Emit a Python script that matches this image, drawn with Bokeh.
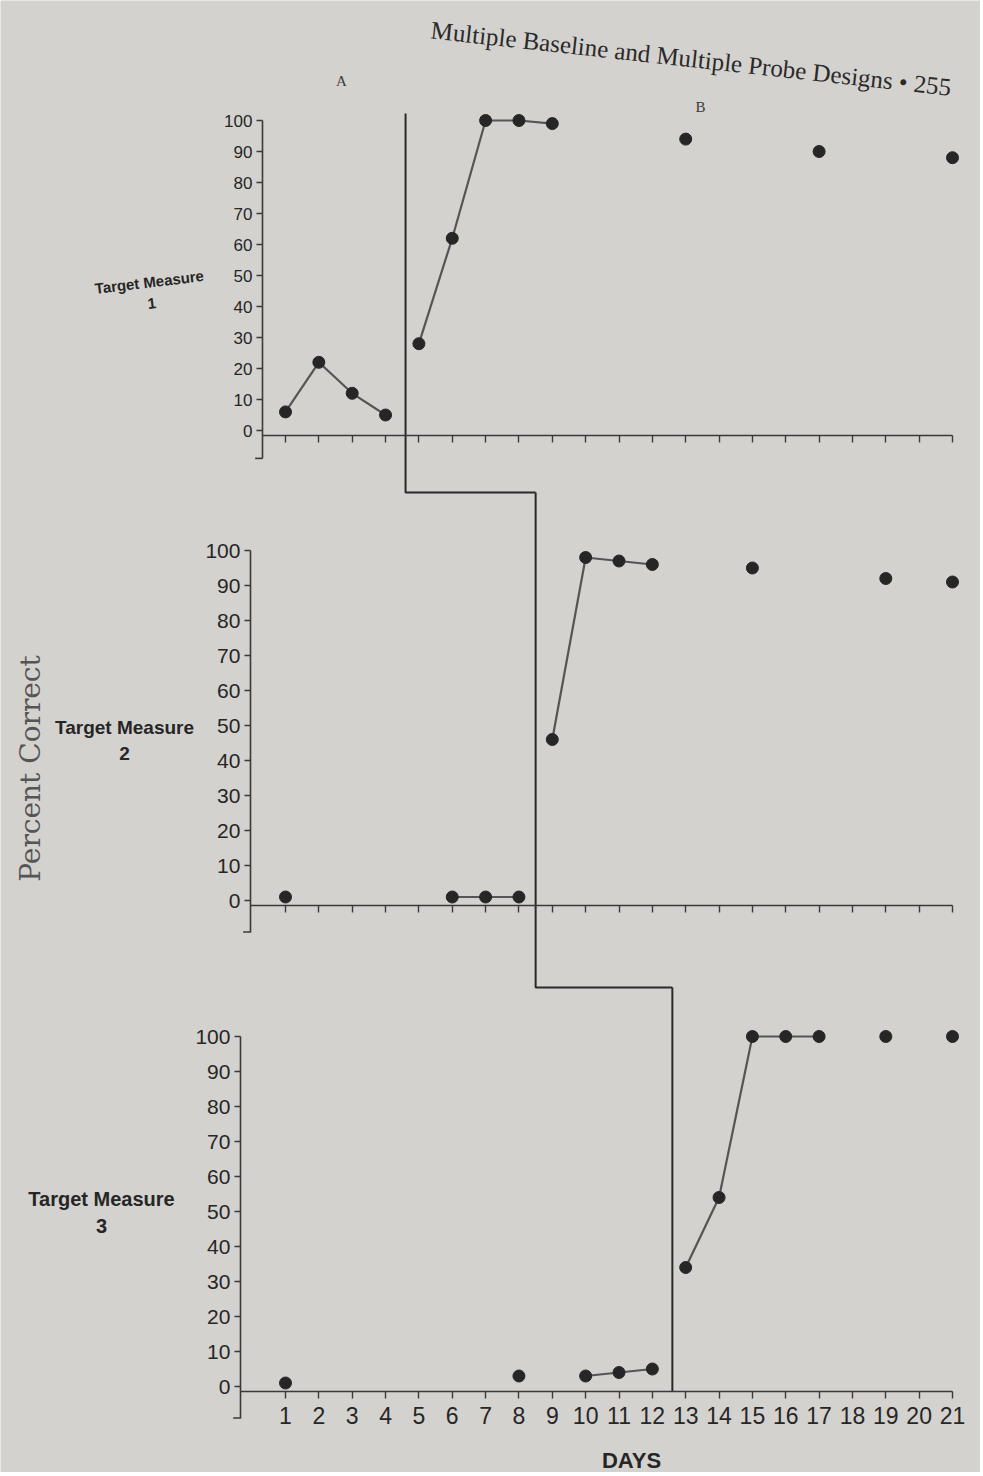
import math
from bokeh.plotting import figure
from bokeh.models import Range1d, LinearAxis, FixedTicker
from bokeh.core.properties import value
from bokeh.embed import file_html
from bokeh.resources import INLINE

# ---------------- data ----------------
days_axis = list(range(1, 22))
y_ticks = list(range(0, 101, 10))

# Target Measure 1
tm1_base_days = [1, 2, 3, 4]
tm1_base_vals = [6, 22, 12, 5]
tm1_treat_days = [5, 6, 7, 8, 9]
tm1_treat_vals = [28, 62, 100, 100, 99]
tm1_probe_days = [13, 17, 21]
tm1_probe_vals = [94, 90, 88]

# Target Measure 2
tm2_base_a_days = [1]
tm2_base_a_vals = [1]
tm2_base_b_days = [6, 7, 8]
tm2_base_b_vals = [1, 1, 1]
tm2_treat_days = [9, 10, 11, 12]
tm2_treat_vals = [46, 98, 97, 96]
tm2_probe_days = [15, 19, 21]
tm2_probe_vals = [95, 92, 91]

# Target Measure 3
tm3_base_a_days = [1]
tm3_base_a_vals = [1]
tm3_base_b_days = [8]
tm3_base_b_vals = [3]
tm3_base_c_days = [10, 11, 12]
tm3_base_c_vals = [3, 4, 5]
tm3_treat_days = [13, 14, 15, 16, 17]
tm3_treat_vals = [34, 54, 100, 100, 100]
tm3_probe_days = [19, 21]
tm3_probe_vals = [100, 100]

phase_change_days = [4.6, 8.5, 12.6]
panel_names = ["Target Measure\n1", "Target Measure\n2", "Target Measure\n3"]

# ---------------- layout helpers ----------------
W, H = 980, 1472
DAY1_PX, DAY_W = 285.0, 33.35           # page x of day 1, px per day
ZERO_PX = [430.0, 900.0, 1386.0]         # page y of value 0 per panel
SCALE = [3.1, 3.5, 3.5]                  # px per percent per panel
YAX_X = [0.31, -0.05, -0.35]             # y-axis position (days)
CONNECT_PX = [492.0, 987.0]              # page y of phase-line connectors


def day_of(px):
    return 1 + (px - DAY1_PX) / DAY_W


def val_of(k, py):
    return (ZERO_PX[k] - py) / SCALE[k]


p = figure(width=W, height=H, output_backend="svg", toolbar_location=None,
           x_range=Range1d(day_of(0), day_of(W)),
           y_range=Range1d(H, 0),
           x_axis_location=None, y_axis_location=None,
           min_border=0, min_border_left=0, min_border_right=0,
           min_border_top=0, min_border_bottom=0)
p.outline_line_color = None
p.grid.visible = False
BG = "#d4d2ce"
p.background_fill_color = BG
p.border_fill_color = BG

for k in range(3):
    p.extra_y_ranges[f"p{k}"] = Range1d(start=val_of(k, H), end=val_of(k, 0))

AX_COL = "#3a3a3a"
TXT_COL = "#262626"
LABEL_SIZES = ["17px", "21px", "21px"]

for k in range(3):
    rn = f"p{k}"
    ya = LinearAxis(y_range_name=rn, fixed_location=YAX_X[k], bounds=(-9, 100),
                    ticker=FixedTicker(ticks=y_ticks))
    ya.axis_line_color = AX_COL
    ya.axis_line_width = 1.6
    ya.major_tick_line_color = AX_COL
    ya.major_tick_line_width = 1.4
    ya.major_tick_out = 6
    ya.major_tick_in = 0
    ya.minor_tick_out = 0
    ya.minor_tick_in = 0
    ya.major_label_standoff = 4
    ya.major_label_text_font = "Liberation Sans"
    ya.major_label_text_font_size = LABEL_SIZES[k]
    ya.major_label_text_color = TXT_COL
    p.add_layout(ya, "left")

    xa = LinearAxis(y_range_name=rn, fixed_location=-1.5, bounds=(YAX_X[k], 21),
                    ticker=FixedTicker(ticks=days_axis))
    xa.axis_line_color = AX_COL
    xa.axis_line_width = 1.6
    xa.major_tick_line_color = AX_COL
    xa.major_tick_line_width = 1.4
    xa.major_tick_out = 7
    xa.major_tick_in = 0
    xa.minor_tick_out = 0
    xa.minor_tick_in = 0
    xa.major_label_standoff = 8
    xa.major_label_text_font = "Liberation Sans"
    xa.major_label_text_font_size = "23px"
    xa.major_label_text_color = TXT_COL
    if k < 2:
        xa.major_label_overrides = {d: "" for d in days_axis}
    p.add_layout(xa, "below")

    # small foot at the bottom of each y axis
    p.segment(x0=[YAX_X[k] - 0.22], y0=[-9], x1=[YAX_X[k]], y1=[-9],
              line_color=AX_COL, line_width=1.6, y_range_name=rn)

LINE_COL = "#555555"
DOT_COL = "#262626"


def series(days, vals, k, connect=True):
    rn = f"p{k}"
    if connect and len(days) > 1:
        p.line(days, vals, line_color=LINE_COL, line_width=2.2, y_range_name=rn)
    p.scatter(days, vals, size=12, fill_color=DOT_COL, line_color=DOT_COL,
              y_range_name=rn)


series(tm1_base_days, tm1_base_vals, 0)
series(tm1_treat_days, tm1_treat_vals, 0)
series(tm1_probe_days, tm1_probe_vals, 0, connect=False)

series(tm2_base_a_days, tm2_base_a_vals, 1)
series(tm2_base_b_days, tm2_base_b_vals, 1)
series(tm2_treat_days, tm2_treat_vals, 1)
series(tm2_probe_days, tm2_probe_vals, 1, connect=False)

series(tm3_base_a_days, tm3_base_a_vals, 2)
series(tm3_base_b_days, tm3_base_b_vals, 2)
series(tm3_base_c_days, tm3_base_c_vals, 2)
series(tm3_treat_days, tm3_treat_vals, 2)
series(tm3_probe_days, tm3_probe_vals, 2, connect=False)

# phase-change (stepped) line
ph = phase_change_days
PH_COL = "#2a2a2a"
p.line([ph[0], ph[0], ph[1]], [val_of(0, 113), val_of(0, CONNECT_PX[0]), val_of(0, CONNECT_PX[0])],
       line_color=PH_COL, line_width=2, y_range_name="p0")
p.line([ph[1], ph[1], ph[2]], [val_of(1, CONNECT_PX[0]), val_of(1, CONNECT_PX[1]), val_of(1, CONNECT_PX[1])],
       line_color=PH_COL, line_width=2, y_range_name="p1")
p.line([ph[2], ph[2]], [val_of(2, CONNECT_PX[1]), -1.5],
       line_color=PH_COL, line_width=2, y_range_name="p2")

# panel names
name_pos = [(150, 292, "15px", 0.12), (124, 740, "19px", 0.0), (101, 1212, "20px", 0.0)]
for name, (px, py, fs, ang) in zip(panel_names, name_pos):
    p.text(x=[day_of(px)], y=[py], text=[name], angle=ang,
           text_font=value("Liberation Sans"), text_font_style="bold",
           text_font_size=fs, text_color=TXT_COL, text_align="center",
           text_baseline="middle", text_line_height=1.25)

# y title and x title
p.text(x=[day_of(30)], y=[768], text=["Percent Correct"], angle=math.pi / 2,
       text_font=value("DejaVu Serif"), text_font_size="28px",
       text_color="#555555", text_align="center", text_baseline="middle")
p.text(x=[day_of(631)], y=[1460], text=["DAYS"],
       text_font=value("Liberation Sans"), text_font_style="bold",
       text_font_size="22px", text_color=TXT_COL, text_align="center",
       text_baseline="middle")

# page header and figure letters
p.text(x=[day_of(432)], y=[16], text=["Multiple Baseline and Multiple Probe Designs  \u2022  255"],
       angle=-0.11, text_font=value("Liberation Serif"), text_font_size="25px",
       text_color="#2a2a2a", text_align="left", text_baseline="top")
p.text(x=[day_of(341), day_of(700)], y=[80, 106], text=["A", "B"],
       text_font=value("Liberation Serif"), text_font_size="15px",
       text_color="#3a3a3a", text_align="center", text_baseline="middle")

open("out.html", "w").write(file_html(p, INLINE))
